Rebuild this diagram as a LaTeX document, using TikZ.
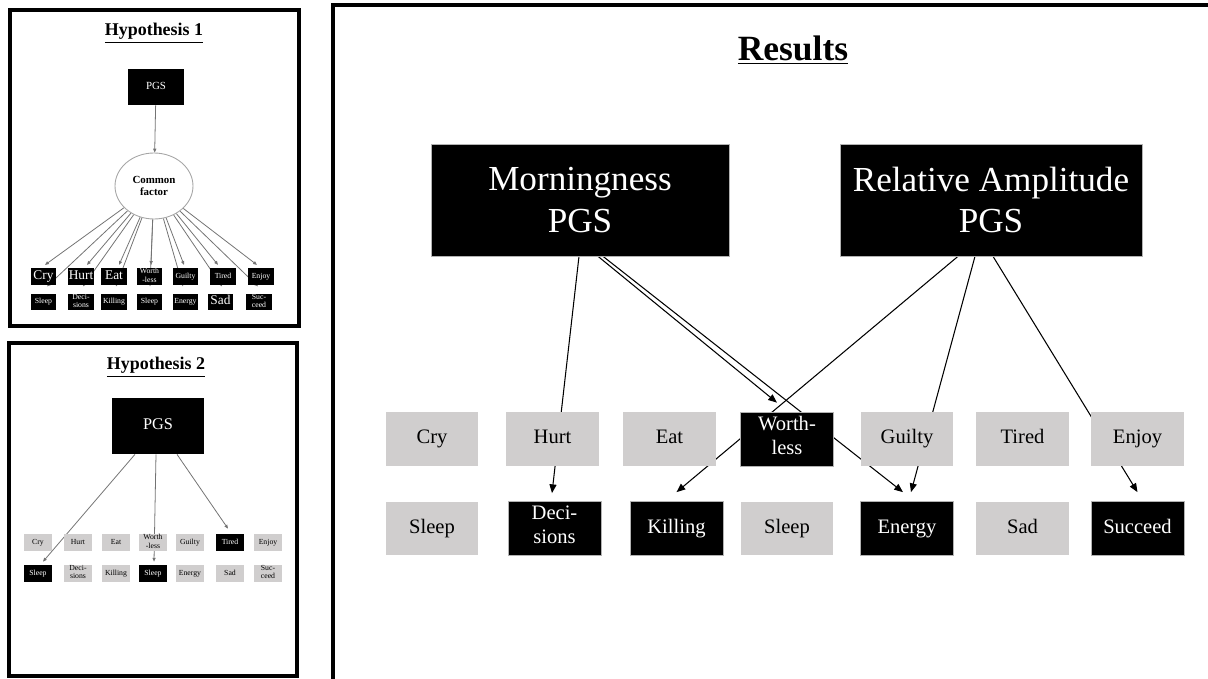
\documentclass[tikz,border=0pt]{standalone}
\usepackage{fontspec}
\setmainfont{Liberation Serif}
\usetikzlibrary{arrows.meta,calc,shapes.geometric,backgrounds}

\definecolor{boxgray}{RGB}{208,206,206} % light gray
\definecolor{linegray}{RGB}{115,115,115} % gray lines

\begin{document}
\begin{tikzpicture}[x=0.02cm,y=-0.02cm,
  frame/.style={draw=black, line width=2.3pt},
  pgsbox/.style={draw=gray!60, fill=black, text=white, align=center, inner sep=0pt,
    minimum width=5.96cm, minimum height=2.24cm, font=\fontsize{20}{23.4}\selectfont},
  graybox/.style={fill=boxgray, text=black, align=center, inner sep=0pt,
    minimum width=1.86cm, minimum height=1.08cm, font=\fontsize{11.7}{14}\selectfont,
    execute at begin node=\strut, execute at end node=\strut},
  blackbox/.style={graybox, fill=black, draw=gray!60, text=white},
  tinybox/.style={fill=black, text=white, align=center, inner sep=0pt,
    minimum width=0.52cm, minimum height=0.33cm, font=\fontsize{4.4}{4.6}\selectfont,
    execute at begin node=\strut, execute at end node=\strut},
  tinygray/.style={tinybox, fill=boxgray, text=black, minimum width=0.56cm, minimum height=0.34cm},
  tinyblack/.style={tinybox, minimum width=0.56cm, minimum height=0.34cm},
  bigword/.style={font=\fontsize{7.6}{8}\selectfont},
  heading/.style={font=\fontsize{10.2}{12}\selectfont\bfseries},
  link/.style={draw=black, line width=0.6pt, -{Triangle[length=5pt,width=4pt]}},
  thinlink/.style={draw=linegray, line width=0.45pt, -{Triangle[length=2.2pt,width=1.8pt]}}
]
\useasboundingbox (0,0) rectangle (1208,679);
\clip (0,0) rectangle (1208,679);

% === Frames ===
\draw[frame] (10,10) rectangle (299,326);
\draw[frame] (9,343) rectangle (297,676);
\draw[frame] (333,5) rectangle (1215,681);

% === Hypothesis 1 ===
\node[heading] (h1title) at (154,33) {\underline{Hypothesis 1}};
\node[tinybox, minimum width=1.12cm, minimum height=0.72cm, font=\fontsize{6.2}{7}\selectfont] (apgs) at (156,87) {PGS};
\node[ellipse, draw=gray!70, line width=0.5pt, minimum width=1.56cm, minimum height=1.32cm,
  align=center, inner sep=0pt, font=\fontsize{6.2}{6.9}\selectfont\bfseries] (cf) at (154,186) {Common\\factor};

\node[tinybox, bigword] (acry) at (43.5,276.5) {Cry};
\node[tinybox, bigword] (ahurt) at (81,276.5) {Hurt};
\node[tinybox, bigword] (aeat) at (114,276.5) {Eat};
\node[tinybox] (aworth) at (149.5,276.5) {Worth\\-less};
\node[tinybox] (aguilty) at (185.5,276.5) {Guilty};
\node[tinybox] (atired) at (223,276.5) {Tired};
\node[tinybox] (aenjoy) at (261,276.5) {Enjoy};

\node[tinybox] (asleepA) at (43.5,302) {Sleep};
\node[tinybox] (adec) at (81,302) {Deci-\\sions};
\node[tinybox] (akill) at (114,302) {Killing};
\node[tinybox] (asleepB) at (149.5,302) {Sleep};
\node[tinybox] (aenergy) at (185.5,302) {Energy};
\node[tinybox, bigword] (asad) at (220.5,302) {Sad};
\node[tinybox] (asucc) at (259,302) {Suc-\\ceed};

\draw[thinlink] (apgs) -- (cf);

\begin{scope}[on background layer]
\draw[thinlink] (cf) -- ($(acry.north)+(1.5,-3)$);
\draw[thinlink] (cf) -- ($(ahurt.north)+(6,-3)$);
\draw[thinlink] (cf) -- ($(aeat.north)+(5,-3)$);
\draw[thinlink] (cf) -- ($(aworth.north)+(1.5,-3)$);
\draw[thinlink] (cf) -- ($(aguilty.north)+(-1.5,-3)$);
\draw[thinlink] (cf) -- ($(atired.north)+(-5,-3)$);
\draw[thinlink] (cf) -- ($(aenjoy.north)+(-4,-3)$);
\draw[thinlink] (cf) -- ($(asleepA.north)+(3.5,-7)$);
\draw[thinlink] (cf) -- ($(adec.north)+(2,-7)$);
\draw[thinlink] (cf) -- ($(akill.north)+(2,-7)$);
\draw[thinlink] (cf) -- ($(asleepB.north)+(0.5,-7)$);
\draw[thinlink] (cf) -- ($(aenergy.north)+(-2.5,-7)$);
\draw[thinlink] (cf) -- ($(asad.north)+(1.5,-7)$);
\draw[thinlink] (cf) -- ($(asucc.north)+(-1,-7)$);
\end{scope}

% === Hypothesis 2 ===
\node[heading] (h2title) at (156,367) {\underline{Hypothesis 2}};
\node[tinybox, minimum width=1.84cm, minimum height=1.12cm, font=\fontsize{9.3}{10}\selectfont] (bpgs) at (158,426) {PGS};

\node[tinygray] (bcry) at (38,542.5) {Cry};
\node[tinygray] (bhurt) at (78,542.5) {Hurt};
\node[tinygray] (beat) at (116,542.5) {Eat};
\node[tinygray] (bworth) at (153,542.5) {Worth\\-less};
\node[tinygray] (bguilty) at (190,542.5) {Guilty};
\node[tinyblack] (btired) at (230,542.5) {Tired};
\node[tinygray] (benjoy) at (268,542.5) {Enjoy};

\node[tinyblack] (bsleepA) at (38,573.5) {Sleep};
\node[tinygray] (bdec) at (78,573.5) {Deci-\\sions};
\node[tinygray] (bkill) at (116,573.5) {Killing};
\node[tinyblack] (bsleepB) at (153,573.5) {Sleep};
\node[tinygray] (benergy) at (190,573.5) {Energy};
\node[tinygray] (bsad) at (230,573.5) {Sad};
\node[tinygray] (bsucc) at (268,573.5) {Suc-\\ceed};

\begin{scope}[on background layer]
\draw[thinlink] ($(bpgs.south)+(-23,0)$) -- ($(bsleepA.north)+(5,-3)$);
\draw[thinlink] ($(bpgs.south)+(-2,0)$) -- ($(bsleepB.north)+(1,-3)$);
\draw[thinlink] ($(bpgs.south)+(19,0)$) -- ($(btired.north)+(-2,-5)$);
\end{scope}

% === Results ===
\node[font=\fontsize{20.2}{24}\selectfont\bfseries] (results) at (793,50) {\underline{Results}};

\node[pgsbox] (mpgs) at (580,200) {Morningness\\PGS};
\node[pgsbox, minimum width=6.04cm] (rpgs) at (991,200) {Relative Amplitude\\PGS};

\node[graybox] (cry) at (432,439) {Cry};
\node[graybox] (hurt) at (552.5,439) {Hurt};
\node[graybox] (eat) at (669.5,439) {Eat};
\node[blackbox] (worth) at (787,439) {Worth-\\less};
\node[graybox] (guilty) at (907,439) {Guilty};
\node[graybox] (tired) at (1022.5,439) {Tired};
\node[graybox] (enjoy) at (1137.5,439) {Enjoy};

\node[graybox] (sleepA) at (432,528.5) {Sleep};
\node[blackbox] (dec) at (554.5,528.5) {Deci-\\sions};
\node[blackbox] (kill) at (676.5,528.5) {Killing};
\node[graybox] (sleepB) at (787,528.5) {Sleep};
\node[blackbox] (energy) at (907,528.5) {Energy};
\node[graybox] (sad) at (1022.5,528.5) {Sad};
\node[blackbox] (succ) at (1137.5,528.5) {Succeed};

\begin{scope}[on background layer]
\draw[link] ($(mpgs.south)+(-1,0)$) -- ($(dec.north)+(-2.5,-8)$);
\draw[link] ($(mpgs.south)+(18,0)$) -- ($(worth.north)+(-10,-9)$);
\draw[link] ($(mpgs.south)+(23,0)$) -- ($(energy.north)+(-4,-9)$);
\draw[link] ($(rpgs.south)+(-33,0)$) -- ($(kill.north)+(0,-9)$);
\draw[link] ($(rpgs.south)+(-16,0)$) -- ($(energy.north)+(4,-9)$);
\draw[link] ($(rpgs.south)+(2,0)$) -- ($(succ.north)+(0,-9)$);
\end{scope}

\end{tikzpicture}
\end{document}
